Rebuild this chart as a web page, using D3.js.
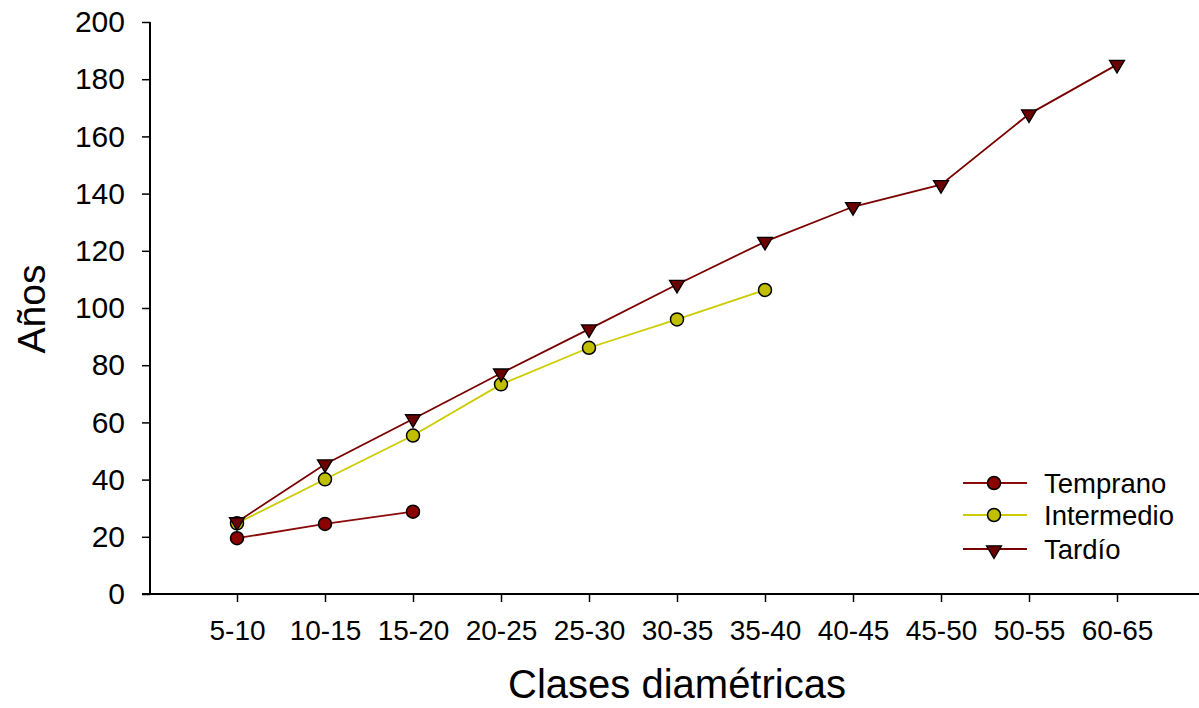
<!DOCTYPE html>
<html>
<head>
<meta charset="utf-8">
<script src="https://cdn.jsdelivr.net/npm/d3@7"></script>
<style>
html,body{margin:0;padding:0;background:#fff;}
svg{display:block;font-family:"Liberation Sans",Arial,sans-serif;}
</style>
</head>
<body>
<svg id="chart" width="1199" height="708"></svg>
<script>
const categories = ["5-10","10-15","15-20","20-25","25-30","30-35","35-40","40-45","45-50","50-55","60-65"];
const temprano = [19.5, 24.5, 28.8];
const intermedio = [24.7, 40.1, 55.4, 73.3, 86.1, 96.0, 106.3];
const tardio = [25.2, 45.4, 61.2, 77.2, 92.6, 108.2, 123.2, 135.4, 143.1, 167.8, 185.1];
const yTicks = [0,20,40,60,80,100,120,140,160,180,200];
const seriesNames = ["Temprano","Intermedio","Tardío"];

const svg = d3.select("#chart");
const x = d3.scalePoint().domain(categories).range([149, 1205]).padding(1);
const y = d3.scaleLinear().domain([0,200]).range([594, 22]);

const series = [
  {name: seriesNames[0], values: temprano, line: "#8B0A0A", fill: "#8B0000", shape: "circle"},
  {name: seriesNames[1], values: intermedio, line: "#CCCC00", fill: "#BFBF00", shape: "circle"},
  {name: seriesNames[2], values: tardio, line: "#7A0000", fill: "#6B0000", shape: "tri"}
];

// axes
const yAxis = d3.axisLeft(y).tickValues(yTicks).tickSize(8).tickPadding(17);
const yg = svg.append("g").attr("transform","translate(150,0)").call(yAxis);
yg.select(".domain").attr("d","M0,22V594").attr("stroke","#000").attr("stroke-width",2);
yg.selectAll(".tick line").attr("stroke","#000").attr("stroke-width",1.5);
yg.selectAll(".tick text").attr("font-size",30).attr("fill","#000").attr("font-family","Liberation Sans, Arial, sans-serif");

const xAxis = d3.axisBottom(x).tickSize(8).tickPadding(18);
const xg = svg.append("g").attr("transform","translate(0,594)").call(xAxis);
xg.select(".domain").attr("d","M142,0H1199").attr("stroke","#000").attr("stroke-width",2);
xg.selectAll(".tick line").attr("stroke","#000").attr("stroke-width",1.5);
xg.selectAll(".tick text").attr("font-size",28).attr("fill","#000").attr("font-family","Liberation Sans, Arial, sans-serif");

// titles
svg.append("text").attr("x",677).attr("y",698).attr("text-anchor","middle")
  .attr("font-size",40).text("Clases diamétricas");
svg.append("text").attr("transform","translate(45,309) rotate(-90)").attr("text-anchor","middle")
  .attr("font-size",39).text("Años");

const tri = "M-7.5,-4.2L7.5,-4.2L0,8.4Z";
const line = d3.line().x((d,i)=>x(categories[i])).y(d=>y(d));

function drawMarker(g, s, cx, cy){
  if (s.shape === "circle") {
    g.append("circle").attr("cx",cx).attr("cy",cy).attr("r",6.5)
      .attr("fill",s.fill).attr("stroke","#000").attr("stroke-width",1.5);
  } else {
    g.append("path").attr("d",tri).attr("transform",`translate(${cx},${cy})`)
      .attr("fill",s.fill).attr("stroke","#000").attr("stroke-width",1.3).attr("stroke-linejoin","miter");
  }
}

series.forEach(s => {
  const g = svg.append("g");
  g.append("path").datum(s.values).attr("d",line).attr("fill","none")
    .attr("stroke",s.line).attr("stroke-width",1.8);
  s.values.forEach((v,i) => drawMarker(g, s, x(categories[i]), y(v)));
});

// legend
const legY = [483, 515, 549];
series.forEach((s,i) => {
  const g = svg.append("g");
  g.append("line").attr("x1",963).attr("x2",1027).attr("y1",legY[i]).attr("y2",legY[i])
    .attr("stroke",s.line).attr("stroke-width",1.8);
  drawMarker(g, s, 994, s.shape==="tri" ? legY[i]+1 : legY[i]);
  g.append("text").attr("x",1044).attr("y",legY[i]).attr("dy","0.35em")
    .attr("font-size",27.5).text(s.name);
});
</script>
</body>
</html>
